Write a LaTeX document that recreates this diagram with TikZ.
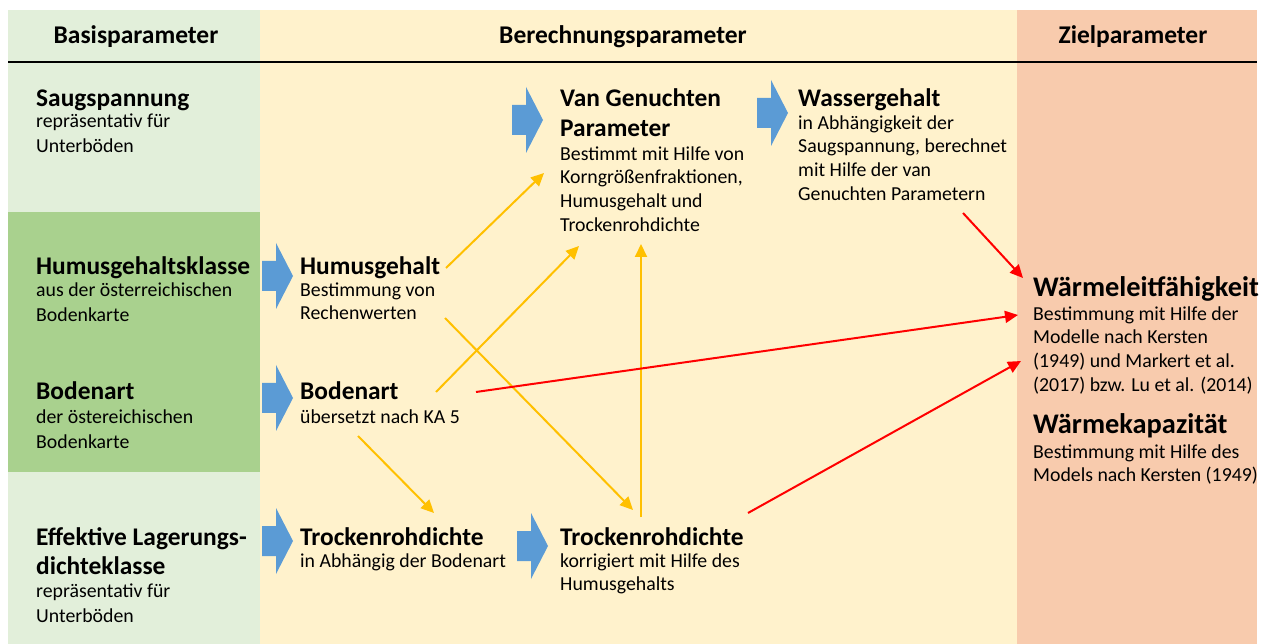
\documentclass[tikz,border=0pt]{standalone}
\usepackage{fontspec}
\setmainfont{Carlito}
\usetikzlibrary{arrows.meta}
\definecolor{lgreen}{HTML}{E2EFDA}
\definecolor{dgreen}{HTML}{A9D18E}
\definecolor{cyel}{HTML}{FFF2CC}
\definecolor{corange}{HTML}{F8CBAD}
\definecolor{cblue}{HTML}{5B9BD5}
\definecolor{cgold}{HTML}{FFC000}
\definecolor{cred}{HTML}{FF0000}
\newcommand\blockarrow[2]{\fill[cblue] (#1,#2) ++(0,-15) -- ++(14,0) -- ++(0,-18) -- ++(17,33) -- ++(-17,33) -- ++(0,-18) -- ++(-14,0) -- cycle;}
\newcommand\bstr{\rule{0pt}{16pt}}
\newcommand\tstr{\rule{0pt}{21pt}}
\newcommand\gstr{\rule{0pt}{24pt}}
\begin{document}
\begin{tikzpicture}[x=1pt,y=-1pt,
  hdr/.style={font=\fontsize{25.5}{30}\selectfont\bfseries, anchor=base, inner sep=0},
  ttl/.style={font=\fontsize{25.4}{30}\selectfont\bfseries, anchor=north west, inner sep=0, align=left},
  tll/.style={font=\fontsize{25.4}{29}\selectfont\bfseries, anchor=north west, inner sep=0, align=left},
  big/.style={font=\fontsize{28.4}{32}\selectfont\bfseries, anchor=north west, inner sep=0, align=left},
  bdy/.style={font=\fontsize{19.8}{23.7}\selectfont, anchor=north west, inner sep=0, align=left},
  bdl/.style={font=\fontsize{19.8}{25}\selectfont, anchor=north west, inner sep=0, align=left},
  yarr/.style={draw=cgold, line width=2pt, -{Triangle[length=13pt,width=12pt]}},
  rarr/.style={draw=cred, line width=2pt, -{Triangle[length=13pt,width=12pt]}}]
\useasboundingbox (0,0) rectangle (1270,644);
\fill[white] (0,0) rectangle (1270,644);
\fill[lgreen] (8,10) rectangle (260,644);
\fill[dgreen] (8,212) rectangle (260,472);
\fill[cyel] (260,10) rectangle (1017,644);
\fill[corange] (1017,10) rectangle (1257,644);
\draw[line width=2pt] (8,62) -- (1257,62);

\node[hdr] (h1) at (136,44) {Basisparameter};
\node[hdr] (h2) at (623,44) {Berechnungsparameter};
\node[hdr] (h3) at (1133,44) {Zielparameter};

% left column (baseline minus strut height)
\node[ttl] (saugT) at (36,85) {\tstr Saugspannung};
\node[bdl] (saugB) at (36,111) {\bstr repräsentativ für\\Unterböden};
\node[ttl] (hkT) at (36,253) {\tstr Humusgehaltsklasse};
\node[bdl] (hkB) at (36,280) {\bstr aus der österreichischen\\Bodenkarte};
\node[ttl] (baLT) at (36,378) {\tstr Bodenart};
\node[bdl] (baLB) at (36,407) {\bstr der östereichischen\\Bodenkarte};
\node[tll] (elT) at (36,524) {\tstr Effektive Lagerungs-\\dichteklasse};
\node[bdl] (elB) at (36,581) {\bstr repräsentativ für\\Unterböden};

% middle column 1
\node[ttl] (humT) at (300,253) {\tstr Humusgehalt};
\node[bdy] (humB) at (300,280) {\bstr Bestimmung von\\Rechenwerten};
\node[ttl] (baT) at (300,378) {\tstr Bodenart};
\node[bdy] (baB) at (300,407) {\bstr übersetzt nach KA 5};
\node[ttl] (tr1T) at (300,524) {\tstr Trockenrohdichte};
\node[bdy] (tr1B) at (300,551) {\bstr in Abhängig der Bodenart};

% middle column 2
\node[ttl] (vgT) at (560,85) {\tstr Van Genuchten\\Parameter};
\node[bdy] (vgB) at (560,144) {\bstr Bestimmt mit Hilfe von\\Korngrößenfraktionen,\\Humusgehalt und\\Trockenrohdichte};
\node[ttl] (tr2T) at (560,524) {\tstr Trockenrohdichte};
\node[bdy] (tr2B) at (560,551) {\bstr korrigiert mit Hilfe des\\Humusgehalts};

% column 3
\node[ttl] (wgT) at (798,85) {\tstr Wassergehalt};
\node[bdy] (wgB) at (798,113) {\bstr in Abhängigkeit der\\Saugspannung, berechnet\\mit Hilfe der van\\Genuchten Parametern};

% target column
\node[big] (wlT) at (1033,272) {\gstr Wärmeleitfähigkeit};
\node[bdy] (wlB) at (1033,304) {\bstr Bestimmung mit Hilfe der\\Modelle nach Kersten\\(1949) und Markert et al.\\(2017) bzw. Lu et al. (2014)};
\node[big] (wkT) at (1033,409) {\gstr Wärmekapazität};
\node[bdy] (wkB) at (1033,442) {\bstr Bestimmung mit Hilfe des\\Models nach Kersten (1949)};

% block arrows
\blockarrow{512}{120}
\blockarrow{757}{113}
\blockarrow{262}{276}
\blockarrow{262}{398}
\blockarrow{262}{541}
\blockarrow{517}{546}

% connector end points
\coordinate (a1) at (446,268); \coordinate (a2) at (544,173);
\coordinate (b1) at (445,318); \coordinate (b2) at (633,510);
\coordinate (c1) at (436,392); \coordinate (c2) at (579,246);
\coordinate (d1) at (358,436); \coordinate (d2) at (434,513);
\coordinate (e1) at (641,517); \coordinate (e2) at (641,244);
\coordinate (f1) at (963,213); \coordinate (f2) at (1023,278);
\coordinate (g1) at (476,392); \coordinate (g2) at (1018,315);
\coordinate (h1e) at (748,513); \coordinate (h2e) at (1021,361);

\draw[yarr] (a1) -- (a2);
\draw[yarr] (b1) -- (b2);
\draw[yarr] (c1) -- (c2);
\draw[yarr] (d1) -- (d2);
\draw[yarr] (e1) -- (e2);
\draw[rarr] (f1) -- (f2);
\draw[rarr] (g1) -- (g2);
\draw[rarr] (h1e) -- (h2e);
\end{tikzpicture}
\end{document}
